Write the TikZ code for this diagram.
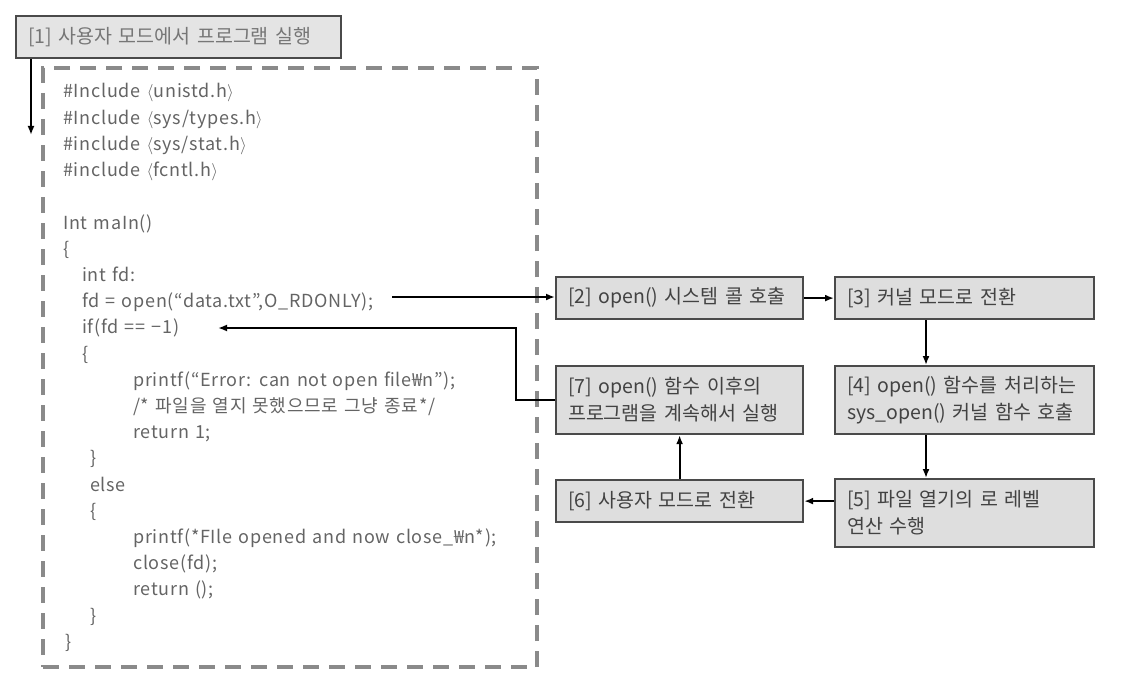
\documentclass[tikz,border=0pt]{standalone}
\usepackage{fontspec}
\setmainfont{Noto Sans CJK KR}
\newfontfamily\codefont{Noto Sans CJK KR}[LetterSpace=4.0]
\usetikzlibrary{arrows.meta}
\definecolor{boxfill}{HTML}{DEDEDE}
\definecolor{boxfillA}{HTML}{E4E4E4}
\definecolor{boxline}{HTML}{4A4A4A}
\definecolor{boxtext}{HTML}{424242}
\definecolor{boxtextA}{HTML}{767676}
\definecolor{codegray}{HTML}{646464}
\definecolor{dashgray}{HTML}{8A8A8A}
\DeclareRobustCommand\myboxfont{\fontsize{19.5}{27}\selectfont\spaceskip=0.36em plus 0.1em\relax}
\DeclareRobustCommand\mycodefont{\codefont\fontsize{18}{26}\selectfont\spaceskip=0.34em plus 0.1em\relax}
\tikzset{
  stepbox/.style={draw=boxline, line width=2.2pt, fill=boxfill, text=boxtext,
    anchor=north west, inner xsep=12pt, inner ysep=0pt, align=left,
    font=\myboxfont},
  titlebox/.style={stepbox, fill=boxfillA, text=boxtextA},
  codeline/.style={anchor=base west, inner sep=0pt, text=codegray,
    font=\mycodefont},
  codeframe/.style={draw=dashgray, line width=3.5pt, dash pattern=on 16pt off 10pt,
    minimum width=494pt, minimum height=599pt, inner sep=0pt},
  arr/.style={-{Latex[length=9pt,width=7pt]}, line width=1.8pt, draw=black},
}
\begin{document}
\begin{tikzpicture}[x=1pt,y=-1pt]
\useasboundingbox (0,0) rectangle (1126,690);

% code frame
\node[codeframe] (code) at (290,367.5) {};

% title
\node[titlebox, text width=301pt, minimum height=42pt] (b1) at (15,15) {[1] 사용자 모드에서 프로그램 실행};
\coordinate (entry) at (31,135);
\draw[arr] (b1.south west -| entry) -- (entry);

% code lines
\node[codeline] (l0)  at (63,98)    {\#Include $\langle$unistd.h$\rangle$};
\node[codeline] (l1)  at (63,124.2) {\#Include $\langle$sys/types.h$\rangle$};
\node[codeline] (l2)  at (63,150.4) {\#include $\langle$sys/stat.h$\rangle$};
\node[codeline] (l3)  at (63,176.6) {\#include $\langle$fcntl.h$\rangle$};
\node[codeline] (l5)  at (63,229)   {Int maIn()};
\node[codeline] (l6)  at (63,255.2) {\{};
\node[codeline] (l7)  at (82,281.4) {int fd:};
\node[codeline] (l8)  at (82,307.6) {fd = open(“data.txt”,O\_RDONLY);};
\node[codeline] (l9)  at (82,333.8) {if(fd == −1)};
\node[codeline] (l10) at (82,360)   {\{};
\node[codeline] (l11) at (133,386.2) {printf(“Error: can not open file₩n”);};
\node[codeline] (l12) at (133,412.4) {/* 파일을 열지 못했으므로 그냥 종료*/};
\node[codeline] (l13) at (133,438.6) {return 1;};
\node[codeline] (l14) at (90,464.8) {\}};
\node[codeline] (l15) at (90,491)   {else};
\node[codeline] (l16) at (90,517.2) {\{};
\node[codeline] (l17) at (133,543.4) {printf(*FIle opened and now close\_₩n*);};
\node[codeline] (l18) at (133,569.6) {close(fd);};
\node[codeline] (l19) at (133,595.8) {return ();};
\node[codeline] (l20) at (90,622)   {\}};
\node[codeline] (l21) at (65,648.2) {\}};

% step boxes
\node[stepbox, text width=223pt, minimum height=42pt] (b2) at (555,276) {[2] open() 시스템 콜 호출};
\node[stepbox, text width=235pt, minimum height=42pt] (b3) at (834,276) {[3] 커널 모드로 전환};
\node[stepbox, text width=223pt, minimum height=68pt] (b7) at (555,365) {[7] open() 함수 이후의\\프로그램을 계속해서 실행};
\node[stepbox, text width=235pt, minimum height=68pt] (b4) at (834,365) {[4] open() 함수를 처리하는\\sys\_open() 커널 함수 호출};
\node[stepbox, text width=223pt, minimum height=42pt] (b6) at (555,479) {[6] 사용자 모드로 전환};
\node[stepbox, text width=235pt, minimum height=68pt] (b5) at (834,478) {[5] 파일 열기의 로 레벨\\연산 수행};

% connectors
\coordinate (fdend) at (392,297);
\coordinate (ifend) at (218,328);
\coordinate (col) at (926,0);
\draw[arr] (fdend) -- (fdend -| b2.west);
\draw[arr] (b2.east) -- (b3.west);
\draw[arr] (b3.south -| col) -- (b4.north -| col);
\draw[arr] (b4.south -| col) -- (b5.north -| col);
\draw[arr] (b5.west |- b6.east) -- (b6.east);
\draw[arr] (b6.north) -- (b7.south);
\draw[arr] (b7.west) -- ++(-39,0) |- (ifend);
\end{tikzpicture}
\end{document}
